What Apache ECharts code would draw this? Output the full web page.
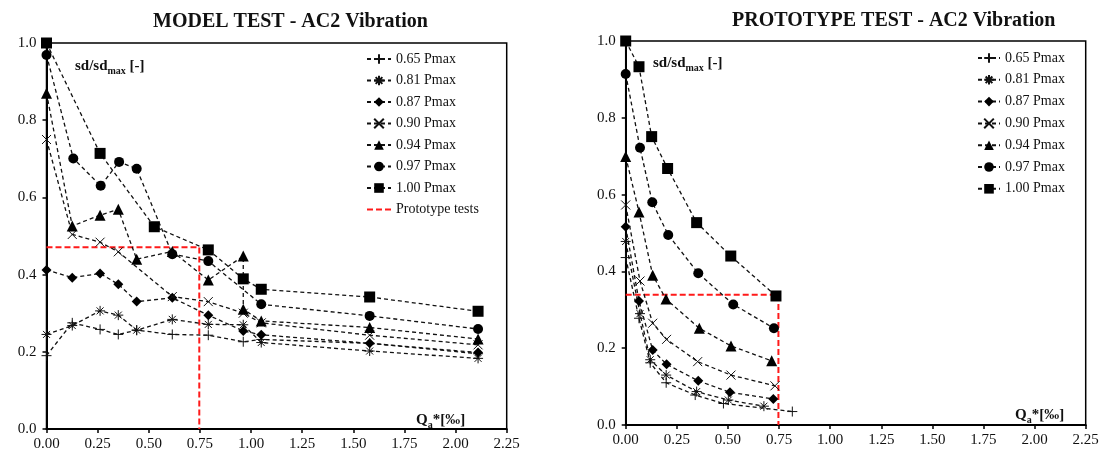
<!DOCTYPE html>
<html>
<head>
<meta charset="utf-8">
<script src="https://cdn.jsdelivr.net/npm/echarts@6/dist/echarts.min.js"></script>
<style>
  html, body { margin: 0; padding: 0; background: #fff; }
  #chart { width: 1104px; height: 452px; }
</style>
</head>
<body>
<div id="chart"></div>
<script>
// model test data (Qa*, sd/sdmax)
var m065X = [0, 0.126, 0.262, 0.351, 0.441, 0.615, 0.791, 0.962, 1.05, 1.58, 2.11];
var m065Y = [0.19, 0.275, 0.258, 0.245, 0.256, 0.245, 0.243, 0.226, 0.232, 0.222, 0.195];
var m081X = [0, 0.126, 0.262, 0.351, 0.441, 0.615, 0.791, 0.962, 1.05, 1.58, 2.11];
var m081Y = [0.245, 0.268, 0.306, 0.295, 0.256, 0.284, 0.271, 0.27, 0.224, 0.202, 0.183];
var m087X = [0, 0.126, 0.262, 0.351, 0.441, 0.615, 0.791, 0.962, 1.05, 1.58, 2.11];
var m087Y = [0.412, 0.392, 0.403, 0.375, 0.33, 0.34, 0.295, 0.254, 0.244, 0.222, 0.198];
var m090X = [0, 0.126, 0.262, 0.351, 0.615, 0.791, 0.962, 1.05, 1.58, 2.11];
var m090Y = [0.75, 0.504, 0.484, 0.459, 0.343, 0.33, 0.30, 0.275, 0.243, 0.218];
var m094X = [0, 0.126, 0.262, 0.351, 0.441, 0.615, 0.791, 0.962, 0.962, 1.05, 1.58, 2.11];
var m094Y = [0.87, 0.526, 0.554, 0.569, 0.44, 0.46, 0.386, 0.448, 0.31, 0.28, 0.263, 0.233];
var m097X = [0, 0.131, 0.265, 0.355, 0.441, 0.615, 0.791, 1.05, 1.58, 2.11];
var m097Y = [0.969, 0.701, 0.63, 0.692, 0.674, 0.453, 0.435, 0.323, 0.293, 0.259];
var m100X = [0, 0.262, 0.527, 0.791, 0.962, 1.05, 1.58, 2.11];
var m100Y = [1.0, 0.714, 0.524, 0.464, 0.389, 0.362, 0.342, 0.305];
var mRedX = [0, 0.747, 0.747];
var mRedY = [0.471, 0.471, 0];

// prototype test data
var p065X = [0, 0.065, 0.12, 0.198, 0.34, 0.478, 0.815];
var p065Y = [0.436, 0.278, 0.162, 0.11, 0.078, 0.056, 0.035];
var p081X = [0, 0.07, 0.12, 0.198, 0.347, 0.502, 0.676];
var p081Y = [0.478, 0.29, 0.17, 0.13, 0.087, 0.065, 0.049];
var p087X = [0, 0.065, 0.132, 0.2, 0.355, 0.51, 0.722];
var p087Y = [0.516, 0.323, 0.195, 0.158, 0.115, 0.085, 0.068];
var p090X = [0, 0.07, 0.132, 0.2, 0.352, 0.515, 0.73];
var p090Y = [0.573, 0.375, 0.265, 0.223, 0.165, 0.13, 0.102];
var p094X = [0, 0.065, 0.132, 0.197, 0.36, 0.515, 0.714];
var p094Y = [0.699, 0.555, 0.39, 0.328, 0.252, 0.206, 0.167];
var p097X = [0, 0.07, 0.13, 0.208, 0.355, 0.526, 0.725];
var p097Y = [0.914, 0.722, 0.58, 0.495, 0.395, 0.314, 0.252];
var p100X = [0, 0.065, 0.127, 0.205, 0.347, 0.514, 0.735];
var p100Y = [1.0, 0.933, 0.751, 0.668, 0.527, 0.44, 0.336];
var pRedX = [0, 0.747, 0.747];
var pRedY = [0.339, 0.339, 0];

var names = ['0.65 Pmax', '0.81 Pmax', '0.87 Pmax', '0.90 Pmax', '0.94 Pmax', '0.97 Pmax', '1.00 Pmax'];

var FONT = '"Liberation Serif", "Times New Roman", serif';

function zip(xs, ys) {
    var out = [];
    for (var i = 0; i < xs.length; i++) out.push([xs[i], ys[i]]);
    return out;
}

var marks = [
    { symbol: 'path://M5,0L5,10M0,5L10,5', size: 10, stroke: true },
    { symbol: 'path://M5,0L5,10M0,5L10,5M1.5,1.5L8.5,8.5M8.5,1.5L1.5,8.5', size: 10, stroke: true },
    { symbol: 'diamond', size: 10 },
    { symbol: 'path://M0,0L10,10M10,0L0,10', size: 9, stroke: true },
    { symbol: 'triangle', size: 11 },
    { symbol: 'circle', size: 10 },
    { symbol: 'rect', size: 11 }
];

function makeSeries(idx, xs, ys, gi) {
    var m = marks[idx];
    return {
        name: names[idx],
        type: 'line',
        xAxisIndex: gi,
        yAxisIndex: gi,
        data: zip(xs, ys),
        symbol: m.symbol,
        symbolSize: m.size,
        symbolKeepAspect: true,
        showAllSymbol: true,
        animation: false,
        lineStyle: { color: '#111', width: 1.3, type: [4, 3] },
        itemStyle: m.stroke
            ? { color: '#111', borderColor: '#111', borderWidth: 1 }
            : { color: '#000', borderWidth: 0 },
        z: 3 + idx
    };
}

function redSeries(name, xs, ys, gi) {
    return {
        name: name,
        type: 'line',
        xAxisIndex: gi,
        yAxisIndex: gi,
        data: zip(xs, ys),
        symbol: 'none',
        animation: false,
        lineStyle: { color: '#ff1a1a', width: 2, type: [6, 3] },
        itemStyle: { color: '#ff1a1a' },
        z: 2
    };
}

var modelSets = [[m065X, m065Y], [m081X, m081Y], [m087X, m087Y], [m090X, m090Y], [m094X, m094Y], [m097X, m097Y], [m100X, m100Y]];
var protoSets = [[p065X, p065Y], [p081X, p081Y], [p087X, p087Y], [p090X, p090Y], [p094X, p094Y], [p097X, p097Y], [p100X, p100Y]];

var series = [];
series.push(redSeries('Prototype tests', mRedX, mRedY, 0));
series.push(redSeries('proto-red', pRedX, pRedY, 1));
modelSets.forEach(function (s, i) { series.push(makeSeries(i, s[0], s[1], 0)); });
protoSets.forEach(function (s, i) { series.push(makeSeries(i, s[0], s[1], 1)); });

function xAxisCfg(gi) {
    return {
        type: 'value', gridIndex: gi, min: 0, max: 2.25, interval: 0.25,
        axisLine: { lineStyle: { color: '#000', width: 2 } },
        axisTick: { show: true, length: 4, lineStyle: { color: '#000', width: 1.5 } },
        axisLabel: { color: '#111', fontFamily: FONT, fontSize: 15, margin: 8,
            formatter: function (v) { return v.toFixed(2); } },
        splitLine: { show: false }
    };
}
function yAxisCfg(gi) {
    return {
        type: 'value', gridIndex: gi, min: 0, max: 1, interval: 0.2,
        axisLine: { show: true, lineStyle: { color: '#000', width: 2 } },
        axisTick: { show: true, length: 4, lineStyle: { color: '#000', width: 1.5 } },
        axisLabel: { color: '#111', fontFamily: FONT, fontSize: 15, margin: 10,
            formatter: function (v) { return v.toFixed(1); } },
        splitLine: { show: false }
    };
}

var nameRich = {
    a: { fontFamily: FONT, fontSize: 15, fontWeight: 'bold', color: '#111' },
    b: { fontFamily: FONT, fontSize: 10, fontWeight: 'bold', color: '#111', padding: [9, 0, 0, 0] }
};

// dashed red bar for the legend entry of the prototype line
var redDashIcon = 'path://M0,4L6,4L6,6L0,6Z M9,4L15,4L15,6L9,6Z M18,4L24,4L24,6L18,6Z';

var myChart = echarts.init(document.getElementById('chart'));
var option = {
    backgroundColor: '#fff',
    title: [
        { text: 'MODEL TEST - AC2 Vibration', left: 148, top: 7,
          textStyle: { fontFamily: FONT, fontSize: 20, fontWeight: 'bold', color: '#111' } },
        { text: 'PROTOTYPE TEST - AC2 Vibration', left: 727, top: 6,
          textStyle: { fontFamily: FONT, fontSize: 20, fontWeight: 'bold', color: '#111' } },
        { text: '{a|sd/sd}{b|max}{a| [-]}', left: 70, top: 52, textStyle: { rich: nameRich } },
        { text: '{a|sd/sd}{b|max}{a| [-]}', left: 648, top: 49, textStyle: { rich: nameRich } },
        { text: '{a|Q}{b|a}{a|*[‰]}', left: 411, top: 406, textStyle: { rich: nameRich } },
        { text: '{a|Q}{b|a}{a|*[‰]}', left: 1010, top: 401, textStyle: { rich: nameRich } }
    ],
    legend: [
        { orient: 'vertical', left: 361, top: 47, itemWidth: 24, itemHeight: 12, itemGap: 7.5,
          data: names.concat([{ name: 'Prototype tests', icon: redDashIcon, itemStyle: { color: '#ff1a1a' } }]),
          textStyle: { fontFamily: FONT, fontSize: 14, color: '#111' } },
        { orient: 'vertical', left: 972, top: 46, itemWidth: 22, itemHeight: 12, itemGap: 7.8,
          data: names.slice(),
          textStyle: { fontFamily: FONT, fontSize: 14, color: '#111' } }
    ],
    grid: [
        { left: 46.5, right: 597.3, top: 43, bottom: 23, show: true, borderColor: '#000', borderWidth: 1.5, backgroundColor: 'transparent' },
        { left: 625.7, right: 18.3, top: 41, bottom: 27, show: true, borderColor: '#000', borderWidth: 1.5, backgroundColor: 'transparent' }
    ],
    xAxis: [xAxisCfg(0), xAxisCfg(1)],
    yAxis: [yAxisCfg(0), yAxisCfg(1)],
    series: series
};
myChart.setOption(option);
</script>
</body>
</html>
